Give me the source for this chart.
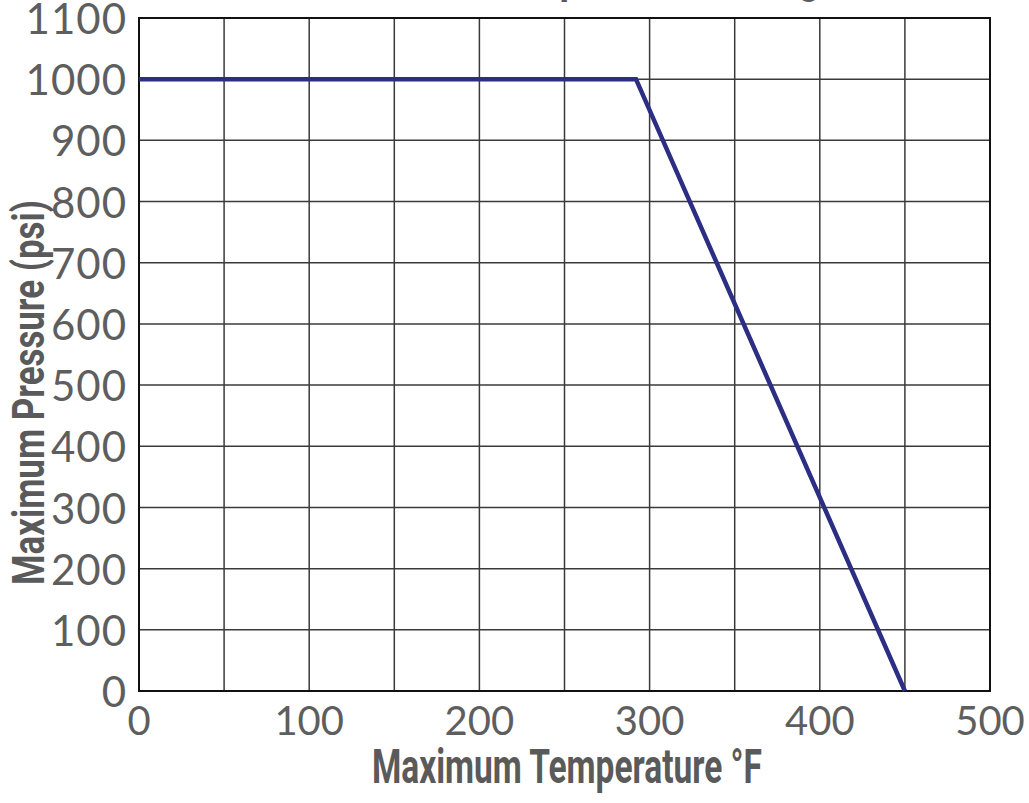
<!DOCTYPE html>
<html>
<head>
<meta charset="utf-8">
<script src="https://cdn.jsdelivr.net/npm/d3@7"></script>
<style>
  html, body { margin: 0; padding: 0; background: #fff; overflow: hidden; }
  svg { display: block; }
  .tick-label { font-family: Lato, "Open Sans", sans-serif; font-weight: 400; fill: #5e5e5e; }
  .axis-title { font-family: "Liberation Sans Narrow", "Roboto", sans-serif; font-weight: bold; fill: #5a5a5a; }
</style>
</head>
<body>
<svg id="chart"></svg>
<script>
const width = 1029;
const height = 803;

// chart data
const temperatures = [0, 292, 450];
const pressures = [1000, 1000, 0];
const xTicks = [0, 100, 200, 300, 400, 500];
const yTicks = [0, 100, 200, 300, 400, 500, 600, 700, 800, 900, 1000, 1100];
const xGrid = [0, 50, 100, 150, 200, 250, 300, 350, 400, 450, 500];

const margin = { top: 18, right: 39, bottom: 112, left: 139 };

const svg = d3
  .select("#chart")
  .attr("width", width)
  .attr("height", height);

const x = d3
  .scaleLinear()
  .domain([0, 500])
  .range([margin.left, width - margin.right]);

const y = d3
  .scaleLinear()
  .domain([0, 1100])
  .range([height - margin.bottom, margin.top]);

// title (cut off at the top in the original, only descenders show)
svg
  .append("text")
  .attr("class", "axis-title")
  .attr("x", 320)
  .attr("y", -7)
  .attr("font-size", 44)
  .attr("textLength", 500)
  .attr("lengthAdjust", "spacingAndGlyphs")
  .text("Pressure/Temperature Rating");

// grid
const grid = svg.append("g").attr("stroke", "#3a3a3a").attr("stroke-width", 1.5);

grid
  .selectAll("line.v")
  .data(xGrid)
  .join("line")
  .attr("class", "v")
  .attr("x1", (d) => x(d))
  .attr("x2", (d) => x(d))
  .attr("y1", y(0))
  .attr("y2", y(1100));

grid
  .selectAll("line.h")
  .data(yTicks)
  .join("line")
  .attr("class", "h")
  .attr("x1", x(0))
  .attr("x2", x(500))
  .attr("y1", (d) => y(d))
  .attr("y2", (d) => y(d));

// plot border
svg
  .append("rect")
  .attr("x", x(0))
  .attr("y", y(1100))
  .attr("width", x(500) - x(0))
  .attr("height", y(0) - y(1100))
  .attr("fill", "none")
  .attr("stroke", "#111")
  .attr("stroke-width", 2);

// tick labels
svg
  .append("g")
  .selectAll("text")
  .data(xTicks)
  .join("text")
  .attr("class", "tick-label")
  .attr("x", (d) => x(d))
  .attr("y", y(0) + 15)
  .attr("dy", "0.72em")
  .attr("text-anchor", "middle")
  .attr("font-size", 40)
  .text((d) => d);

svg
  .append("g")
  .selectAll("text")
  .data(yTicks)
  .join("text")
  .attr("class", "tick-label")
  .attr("x", x(0) - 12)
  .attr("y", (d) => y(d) + 1)
  .attr("dy", "0.36em")
  .attr("text-anchor", "end")
  .attr("font-size", 42)
  .attr("letter-spacing", 1)
  .text((d) => d);

// axis titles
svg
  .append("text")
  .attr("class", "axis-title")
  .attr("x", 372)
  .attr("y", 783)
  .attr("font-size", 49)
  .attr("textLength", 390)
  .attr("lengthAdjust", "spacingAndGlyphs")
  .text("Maximum Temperature °F");

svg
  .append("text")
  .attr("class", "axis-title")
  .attr("transform", "translate(44, 585) rotate(-90)")
  .attr("font-size", 45)
  .attr("textLength", 385)
  .attr("lengthAdjust", "spacingAndGlyphs")
  .text("Maximum Pressure (psi)");

// rating line
const line = d3
  .line()
  .x((d, i) => x(temperatures[i]))
  .y((d, i) => y(pressures[i]));

svg
  .append("path")
  .datum(temperatures)
  .attr("d", line)
  .attr("fill", "none")
  .attr("stroke", "#2b2e83")
  .attr("stroke-width", 4.5)
  .attr("stroke-linejoin", "miter");
</script>
</body>
</html>
